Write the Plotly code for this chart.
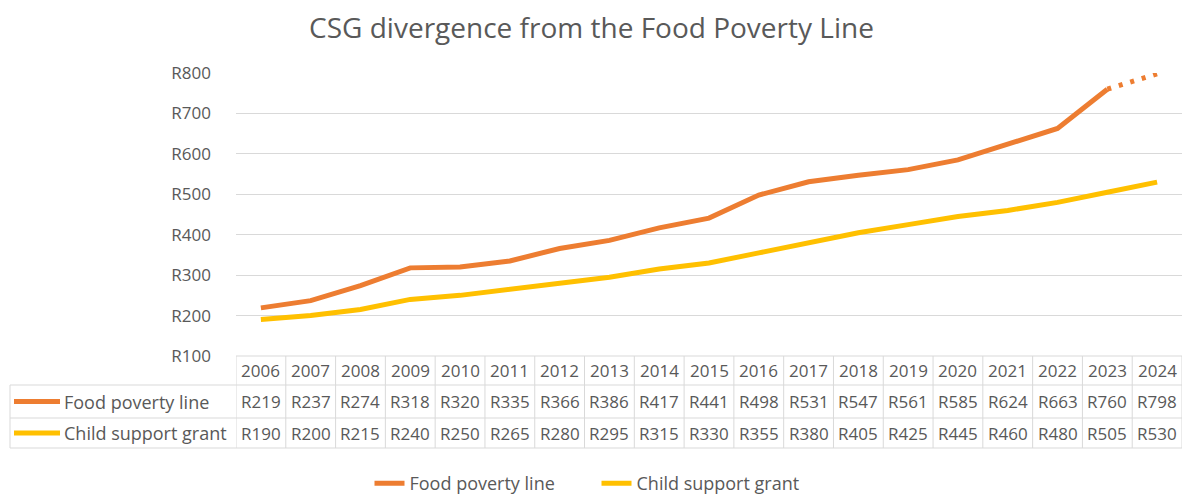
import plotly.graph_objects as go

years = ["2006", "2007", "2008", "2009", "2010", "2011", "2012", "2013", "2014", "2015",
         "2016", "2017", "2018", "2019", "2020", "2021", "2022", "2023", "2024"]
food_poverty_line = [219, 237, 274, 318, 320, 335, 366, 386, 417, 441,
                     498, 531, 547, 561, 585, 624, 663, 760, 798]
child_support_grant = [190, 200, 215, 240, 250, 265, 280, 295, 315, 330,
                       355, 380, 405, 425, 445, 460, 480, 505, 530]
y_ticks = [100, 200, 300, 400, 500, 600, 700, 800]

ORANGE = "#ED7D31"
YELLOW = "#FFC000"
TXT = "#595959"
GRID = "#D9D9D9"
FONT = "Open Sans"

W, H = 1183, 502
ML, MR, MT, MB = 236, 1, 73, 146
PW = W - ML - MR
PH = H - MT - MB


def py(px):
    """pixel y -> paper y"""
    return (H - MB - px) / PH


def pxp(px):
    """pixel x -> paper x"""
    return (px - ML) / PW


n = len(years)
last_solid = n - 2  # 2023 index
food_solid = [v if i <= last_solid else None for i, v in enumerate(food_poverty_line)]
food_dot = [v if i >= last_solid else None for i, v in enumerate(food_poverty_line)]

fig = go.Figure()
fig.add_trace(go.Scatter(x=years, y=food_solid, mode="lines", name="Food poverty line",
                         line=dict(color=ORANGE, width=5), connectgaps=False))
fig.add_trace(go.Scatter(x=years, y=food_dot, mode="lines", name="Food poverty line (est.)",
                         showlegend=False, line=dict(color=ORANGE, width=5, dash="4px,8px")))
fig.add_trace(go.Scatter(x=years, y=child_support_grant, mode="lines", name="Child support grant",
                         line=dict(color=YELLOW, width=5)))

shapes = []
annotations = []

# table geometry (pixels)
row_top, row1, row2, row_bot = 356, 385, 418, 448
label_left = 10
line_style = dict(color=GRID, width=1)

# horizontal lines
shapes.append(dict(type="line", xref="paper", yref="paper", x0=0, x1=1,
                   y0=py(row_top), y1=py(row_top), line=line_style))
for yy in (row1, row2, row_bot):
    shapes.append(dict(type="line", xref="paper", yref="paper", x0=pxp(label_left), x1=1,
                       y0=py(yy), y1=py(yy), line=line_style))
# vertical lines at column boundaries
for i in range(n + 1):
    shapes.append(dict(type="line", xref="x", yref="paper", x0=i - 0.5, x1=i - 0.5,
                       y0=py(row_top), y1=py(row_bot), line=line_style))
# left border of label column
shapes.append(dict(type="line", xref="paper", yref="paper", x0=pxp(label_left), x1=pxp(label_left),
                   y0=py(row1), y1=py(row_bot), line=line_style))

# table cell text
rows = [
    (years, (row_top + row1) / 2),
    (["R%d" % v for v in food_poverty_line], (row1 + row2) / 2),
    (["R%d" % v for v in child_support_grant], (row2 + row_bot) / 2),
]
for labels, yc in rows:
    for i, lab in enumerate(labels):
        annotations.append(dict(text=lab, xref="x", yref="paper", x=i, y=py(yc),
                                showarrow=False, xanchor="center", yanchor="middle",
                                font=dict(family=FONT, size=17, color=TXT)))

# row labels with legend keys
for name, color, yc in (("Food poverty line", ORANGE, (row1 + row2) / 2),
                        ("Child support grant", YELLOW, (row2 + row_bot) / 2)):
    shapes.append(dict(type="line", xref="paper", yref="paper", x0=pxp(14), x1=pxp(60),
                       y0=py(yc), y1=py(yc), line=dict(color=color, width=5)))
    annotations.append(dict(text=name, xref="paper", yref="paper", x=pxp(62), y=py(yc),
                            showarrow=False, xanchor="left", yanchor="middle",
                            font=dict(family=FONT, size=18, color=TXT)))

fig.update_layout(
    width=W, height=H,
    margin=dict(l=ML, r=MR, t=MT, b=MB, autoexpand=False),
    paper_bgcolor="white", plot_bgcolor="white",
    font=dict(family=FONT, color=TXT, size=17),
    title=dict(text="CSG divergence from the Food Poverty Line", x=0.5, xref="container",
               xanchor="center", y=1 - 28 / H, yref="container", yanchor="middle",
               font=dict(family=FONT, size=28, color=TXT)),
    xaxis=dict(type="category", range=[-0.5, n - 0.5], showticklabels=False, showgrid=False,
               zeroline=False, showline=False, fixedrange=True),
    yaxis=dict(range=[100, 800], tickvals=y_ticks, ticktext=["R%d" % v for v in y_ticks],
               showgrid=True, gridcolor=GRID, gridwidth=1, zeroline=False, showline=False,
               ticks="", ticklabelstandoff=24, tickfont=dict(family=FONT, size=17, color=TXT)),
    legend=dict(orientation="h", xref="container", yref="container", x=0.5 + 5 / W,
                xanchor="center", y=0.0, yanchor="bottom",
                font=dict(family=FONT, size=18, color=TXT),
                entrywidth=182, entrywidthmode="pixels", bgcolor="rgba(0,0,0,0)"),
    shapes=shapes,
    annotations=annotations,
    showlegend=True,
)

fig.write_html("out.html")
